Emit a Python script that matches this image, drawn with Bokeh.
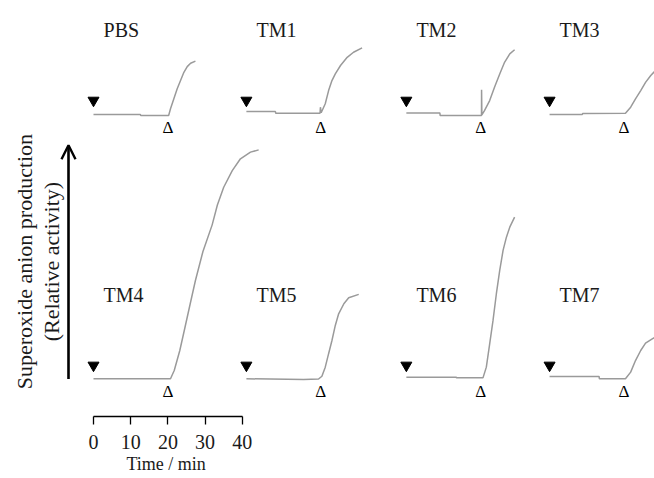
import math
from bokeh.plotting import figure
from bokeh.models import (Range1d, LinearAxis, FixedTicker, Label, Arrow,
                          OpenHead, Title)
from bokeh.core.properties import value
from bokeh.embed import file_html
from bokeh.resources import INLINE

# ---------------- data (time in min, relative activity) ----------------
panel_names = ["PBS", "TM1", "TM2", "TM3", "TM4", "TM5", "TM6", "TM7"]

pbs_t = [0, 12.6, 12.7, 20.2, 20.7, 21.6, 22.5, 23.4, 24.3, 25.2, 26.1, 27.4]
pbs_v = [-0.2, -0.2, -0.6, -0.6, 2.3, 6.7, 11.1, 14.7, 18.3, 20.8, 22.3, 23.2]

tm1_t = [0, 7.8, 7.9, 19.8, 19.9, 20.1, 21.2, 22.1, 23.0, 23.9, 25.3, 27.1, 28.8, 31.1]
tm1_v = [1.1, 1.1, 0.35, 0.35, 3.0, 0.6, 4.5, 10.3, 14.7, 17.6, 21.3, 24.9, 27.1, 29.0]

tm2_t = [0, 9.0, 9.1, 20.2, 20.22, 20.3, 21.0, 22.4, 23.7, 25.1, 26.4, 27.8, 29.1]
tm2_v = [0.5, 0.5, -0.66, -0.66, 10.7, -0.4, 1.5, 5.9, 11.8, 17.6, 22.7, 26.4, 28.2]

tm3_t = [0, 8.8, 8.9, 20.4, 21.8, 23.1, 24.5, 25.8, 27.2, 28.0, 28.5]
tm3_v = [-0.2, -0.2, 0.2, 0.35, 3.0, 6.7, 10.3, 13.9, 16.9, 18.3, 19.0]

tm4_t = [0, 20.7, 21.7, 23.2, 24.6, 26.0, 27.4, 29.4, 31.9, 33.3, 35.0, 37.3, 39.5, 42.2, 44.4]
tm4_v = [0.1, 0.1, 3.7, 12.5, 22.7, 33.0, 43.2, 55.8, 67.6, 76.3, 84.1, 91.4, 96.6, 99.5, 100.5]

tm5_t = [0, 15.4, 19.4, 20.3, 21.2, 22.1, 23.0, 23.9, 24.8, 26.2, 27.5, 30.2]
tm5_v = [0.1, -0.2, 0.0, 1.2, 5.2, 11.1, 16.9, 23.5, 28.6, 33.0, 35.6, 37.1]

tm6_t = [0, 13.4, 13.5, 20.6, 21.5, 22.4, 23.3, 24.2, 25.1, 26.0, 26.9, 27.8, 29.1]
tm6_v = [0.8, 0.8, 0.5, 0.5, 5.2, 15.4, 25.7, 37.4, 47.6, 56.4, 62.2, 66.6, 71.0]

tm7_t = [0, 13.3, 13.4, 20.4, 21.8, 23.1, 24.5, 25.8, 27.6, 28.2]
tm7_v = [1.1, 1.1, 0.1, 0.1, 3.0, 8.1, 12.5, 15.7, 17.6, 18.2]

addition_time = 0      # filled triangle
stimulus_time = 20     # open triangle
time_ticks = [0, 10, 20, 30, 40]

series_t = [pbs_t, tm1_t, tm2_t, tm3_t, tm4_t, tm5_t, tm6_t, tm7_t]
series_v = [pbs_v, tm1_v, tm2_v, tm3_v, tm4_v, tm5_v, tm6_v, tm7_v]

# ---------------- layout (panel offsets, scales) ----------------
PX_MIN = 3.72     # px per minute
PX_UNIT = 2.28    # px per activity unit
W, H = 654, 478
B_BOTTOM = 62
col_off = [0.0, 41.1, 84.1, 122.6]    # minutes
row_off = [116.2, 0.0]                # activity units

x0 = -93 / PX_MIN
y1 = 378.5 / PX_UNIT
frame_h = H - B_BOTTOM

p = figure(width=W, height=H, output_backend="svg", toolbar_location=None,
           x_axis_type=None, y_axis_type=None,
           x_range=Range1d(x0, x0 + W / PX_MIN),
           y_range=Range1d(y1 - frame_h / PX_UNIT, y1),
           min_border_left=0, min_border_right=0, min_border_top=0,
           min_border_bottom=B_BOTTOM, outline_line_color=None,
           background_fill_color="white", border_fill_color="white")

FONT = "Liberation Serif"

xs, ys, lx, ly, tx, ty, ox, oy = [], [], [], [], [], [], [], []
for i, name in enumerate(panel_names):
    r, c = divmod(i, 4)
    xs.append([t + col_off[c] for t in series_t[i]])
    ys.append([v + row_off[r] for v in series_v[i]])
    lx.append(col_off[c] + 2.7)
    ly.append(row_off[r] + 37)
    tx.append(col_off[c] + addition_time)
    ty.append(row_off[r] + 6.0)
    ox.append(col_off[c] + stimulus_time)
    oy.append(row_off[r] - 5.7)

p.multi_line(xs=xs, ys=ys, line_color="#9a9a9a", line_width=1.5)

p.text(x=lx, y=ly, text=panel_names, text_font=value(FONT),
       text_font_size="20px", text_align="left", text_baseline="alphabetic",
       text_color="#1a1a1a")

p.scatter(x=tx, y=ty, marker="inverted_triangle", size=11, color="black")

p.text(x=ox, y=oy, text=["Δ"] * len(ox), text_font=value(FONT),
       text_font_size="17px", text_align="center", text_baseline="middle",
       text_color="black")

# vertical arrow
arrow_x = (68 - 93) / PX_MIN
p.add_layout(Arrow(x_start=arrow_x, y_start=0, x_end=arrow_x,
                   y_end=max(tm4_v) + 2,
                   line_width=2.6, line_color="black",
                   end=OpenHead(size=14, line_width=2.4, line_color="black")))

# y label (two lines)
p.add_layout(Label(x=(23.5 - 93) / PX_MIN, y=51.5, angle=math.pi / 2,
                   text="Superoxide anion production", text_font=FONT,
                   text_font_size="22px", text_align="center",
                   text_baseline="middle", text_color="#1a1a1a"))
p.add_layout(Label(x=(50.5 - 93) / PX_MIN, y=51.5, angle=math.pi / 2,
                   text="(Relative activity)", text_font=FONT,
                   text_font_size="22px", text_align="center",
                   text_baseline="middle", text_color="#1a1a1a"))

# time axis
ax = LinearAxis(ticker=FixedTicker(ticks=time_ticks), bounds=(0, 40),
                major_tick_out=8, major_tick_in=0,
                minor_tick_line_color=None,
                axis_line_width=1.3, axis_line_color="black",
                major_tick_line_width=1.3, major_tick_line_color="black",
                major_label_text_font=FONT, major_label_text_font_size="20px",
                major_label_text_color="#1a1a1a", major_label_standoff=10)
p.add_layout(ax, "below")
p.add_layout(Title(text="Time / min", align="left", offset=126, standoff=0,
                   text_font=FONT, text_font_size="18px",
                   text_font_style="normal", text_color="#1a1a1a"), "below")

open("out.html", "w").write(file_html(p, INLINE))
